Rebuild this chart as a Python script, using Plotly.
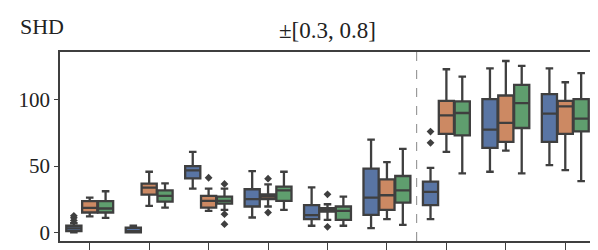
import plotly.graph_objects as go

groups = list(range(9))
hues = ["blue", "orange", "green"]
colors = ["#5975a4", "#cc8963", "#5f9e6e"]
hue_offsets = [-0.267, 0.0, 0.267]

# stats per hue: lists over the 9 groups
q1 = {
    "blue":   [1.0, 0.0, 40.7, 19.5, 10.0, 13.2, 20.5, 63.7, 68.2],
    "orange": [15.0, 28.5, 18.7, 25.0, 15.7, 17.0, 74.2, 68.2, 74.2],
    "green":  [15.0, 23.2, 21.7, 23.7, 9.5, 22.5, 73.2, 78.7, 76.2],
}
median = {
    "blue":   [3.0, 1.0, 46.7, 25.0, 13.0, 26.2, 30.5, 77.5, 89.5],
    "orange": [18.5, 33.7, 23.7, 27.0, 16.7, 28.0, 88.2, 82.5, 95.0],
    "green":  [18.0, 27.5, 23.7, 31.7, 16.2, 31.7, 90.0, 97.5, 85.7],
}
q3 = {
    "blue":   [5.0, 3.5, 50.0, 32.5, 20.5, 48.0, 38.2, 100.5, 104.2],
    "orange": [23.5, 36.7, 27.5, 28.7, 18.2, 40.0, 99.2, 103.2, 99.2],
    "green":  [23.5, 31.7, 27.0, 34.5, 19.5, 42.5, 98.7, 111.2, 100.5],
}
lowerfence = {
    "blue":   [0.0, 0.0, 33.0, 11.2, 5.0, 3.2, 10.0, 45.7, 50.7],
    "orange": [12.0, 20.0, 16.2, 19.5, 9.5, 10.0, 60.7, 61.7, 47.0],
    "green":  [11.0, 18.7, 17.0, 17.0, 5.0, 5.7, 44.5, 44.5, 38.7],
}
upperfence = {
    "blue":   [7.0, 5.0, 60.7, 46.2, 34.0, 70.0, 48.7, 123.7, 123.7],
    "orange": [26.2, 45.7, 33.0, 36.2, 21.2, 53.0, 123.0, 129.2, 113.2],
    "green":  [31.0, 37.0, 33.0, 45.7, 27.0, 63.0, 117.5, 125.5, 120.0],
}
# outliers: (group index, hue, value)
outlier_group = [0, 0, 0, 2, 2, 2, 2, 3, 3, 4, 4, 6, 6]
outlier_hue = ["blue", "blue", "blue", "orange", "green", "green", "green",
               "orange", "orange", "orange", "orange", "blue", "blue"]
outlier_value = [9.0, 11.0, 12.5, 41.2, 36.5, 13.7, 6.2, 40.5, 15.0, 28.7, 4.2, 76.0, 67.5]

y_ticks = [0, 50, 100]
title_text = "±[0.3, 0.8]"
ylabel_text = "SHD"
divider_pos = 5.5

edge = "#3f3f3f"
font_family = "Liberation Serif, Times New Roman, serif"

fig = go.Figure()
for h, col, off in zip(hues, colors, hue_offsets):
    fig.add_trace(go.Box(
        x=[g + off for g in groups],
        q1=q1[h], median=median[h], q3=q3[h],
        lowerfence=lowerfence[h], upperfence=upperfence[h],
        width=0.255, whiskerwidth=0.5,
        fillcolor=col, line=dict(color=edge, width=2.3),
        boxpoints=False, showlegend=False, hoverinfo="skip",
    ))

off_map = dict(zip(hues, hue_offsets))
fig.add_trace(go.Scatter(
    x=[g + off_map[h] for g, h in zip(outlier_group, outlier_hue)],
    y=outlier_value, mode="markers",
    marker=dict(symbol="diamond", size=6, color=edge),
    showlegend=False, hoverinfo="skip",
))

fig.add_shape(type="line", x0=divider_pos, x1=divider_pos, y0=0, y1=1,
              xref="x", yref="paper",
              line=dict(color="#888888", width=1, dash="dash"))

# the page body adds an 8px offset; the figure is sized to fill the rest
fig.update_layout(
    width=590, height=242,
    margin=dict(l=52, r=1, t=44, b=9),
    paper_bgcolor="white", plot_bgcolor="white",
    font=dict(family=font_family, size=20, color="#222"),
    annotations=[
        dict(text=title_text, x=0.5, xref="paper", y=1.0, yref="paper",
             yshift=7, showarrow=False, yanchor="bottom",
             font=dict(family=font_family, size=23, color="#222")),
        dict(text=ylabel_text, x=-0.078, xref="paper", y=1.0, yref="paper",
             yshift=11, showarrow=False, yanchor="bottom", xanchor="left",
             font=dict(family=font_family, size=22, color="#222")),
    ],
)
fig.update_xaxes(
    range=[-0.5, 8.5], tickvals=groups, ticktext=[""] * len(groups),
    ticks="outside", ticklen=8, tickwidth=1.2, tickcolor=edge,
    showline=True, linecolor=edge, linewidth=1.5, mirror=True,
    showgrid=False, zeroline=False,
)
fig.update_yaxes(
    range=[-6.5, 136], tickvals=y_ticks,
    ticks="outside", ticklen=4, tickwidth=1.2, tickcolor=edge,
    showline=True, linecolor=edge, linewidth=1.5, mirror=True,
    showgrid=False, zeroline=False, tickfont=dict(size=21),
)

fig.write_html("out.html")
